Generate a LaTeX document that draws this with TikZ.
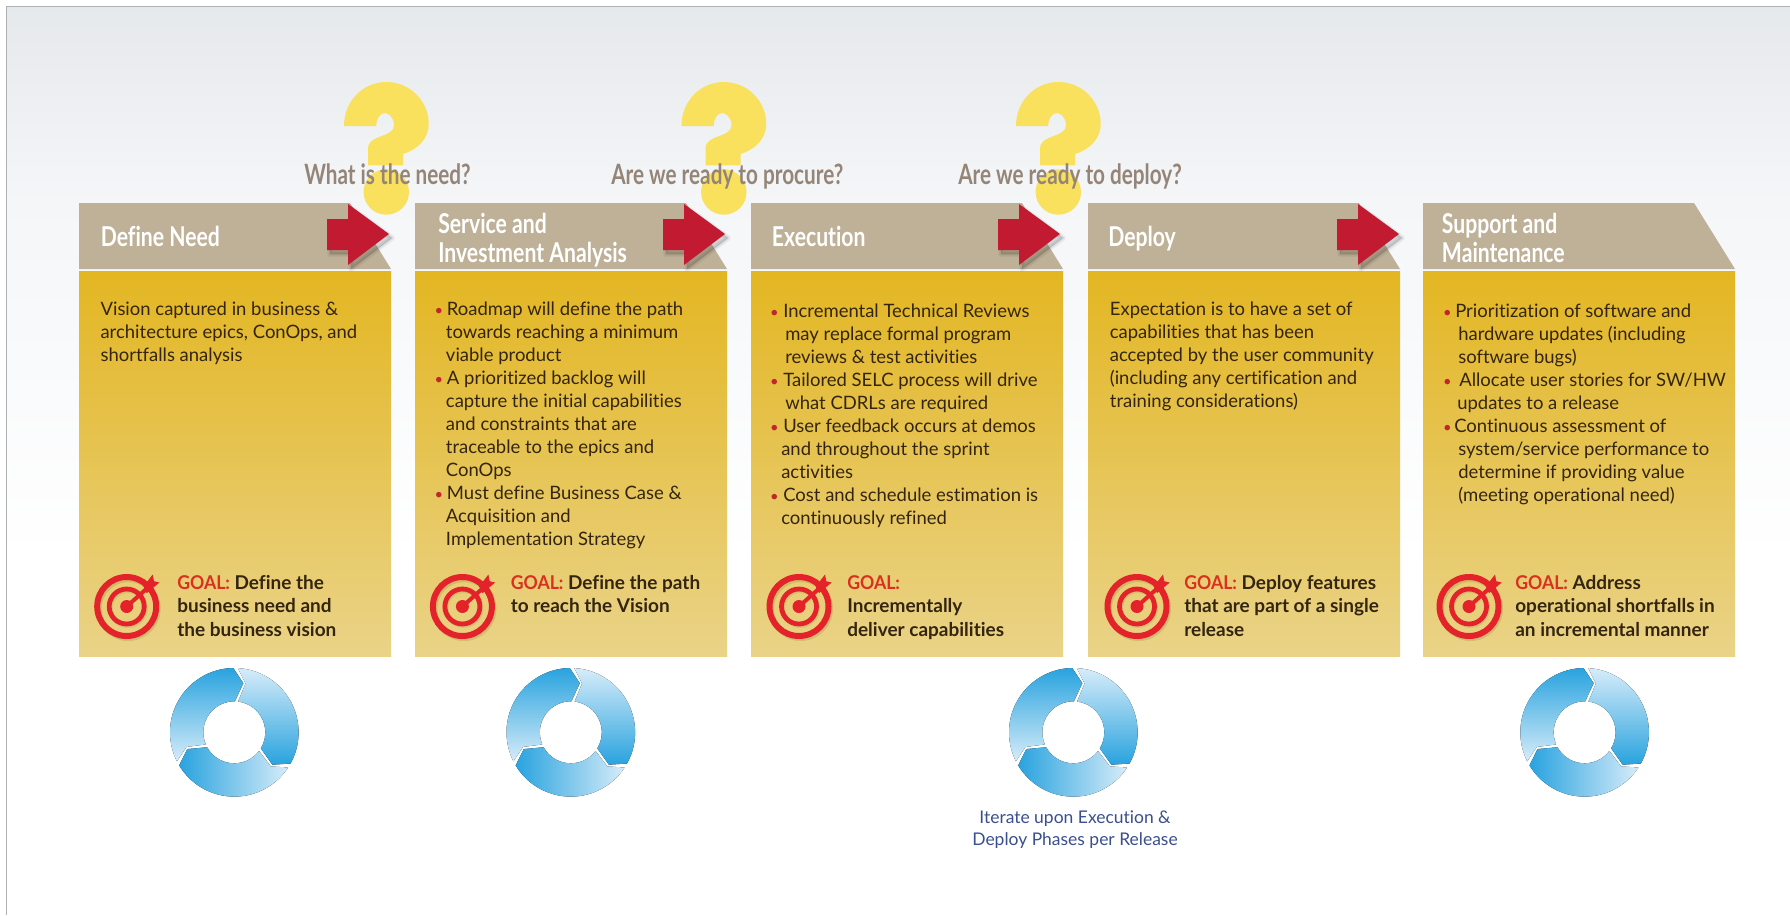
\documentclass[tikz,border=0pt]{standalone}
\usepackage{fontspec}
\setmainfont[Ligatures=NoCommon]{Lato}
\newfontfamily\condfont[FakeStretch=0.74,Ligatures=NoCommon]{Lato}
\newfontfamily\headfont[FakeStretch=0.775,Ligatures=NoCommon]{Lato}
\usetikzlibrary{calc}
\definecolor{headtan}{HTML}{BFB198}
\definecolor{bodytop}{HTML}{E3B622}
\definecolor{bodybot}{HTML}{EAD388}
\definecolor{txtdark}{HTML}{33250F}
\definecolor{goalred}{HTML}{D9301F}
\definecolor{bullred}{HTML}{C0272D}
\definecolor{arrowred}{HTML}{C21A30}
\definecolor{qyellow}{HTML}{F9E15E}
\definecolor{qtext}{HTML}{948578}
\definecolor{ringdark}{HTML}{29A3DF}
\definecolor{ringlight}{HTML}{D6ECF9}
\definecolor{navytext}{HTML}{3A4F8F}
\definecolor{targetred}{HTML}{E3222A}
\definecolor{bgtop}{HTML}{E6E9EB}
\definecolor{bgmid}{HTML}{F4F6F8}
\definecolor{framegray}{HTML}{AEB0B2}
\newlength{\pxu}\setlength{\pxu}{0.75pt}
\newcommand{\bl}[1]{\leavevmode\llap{\textcolor{bullred}{\scalebox{.8}{\textbullet}}\hspace{2pt}}\hspace*{#1\pxu}}
\newcommand{\ofs}[1]{\leavevmode\hspace*{#1\pxu}}
\tikzset{
  x=0.75pt,y=-0.75pt,
  bodytext/.style={anchor=north west,inner sep=0pt,align=left,text=txtdark,font=\fontsize{13.85pt}{17.25pt}\selectfont},
  goaltext/.style={anchor=north west,inner sep=0pt,align=left,text=txtdark,font=\fontsize{14.25pt}{17.6pt}\selectfont\bfseries},
  headtext/.style={anchor=north west,inner sep=0pt,align=left,text=white,font=\headfont\fontsize{20.5pt}{22.4pt}\selectfont\bfseries},
  asktext/.style={anchor=base west,inner sep=0pt,text=qtext,font=\condfont\fontsize{21pt}{24pt}\selectfont\bfseries},
  captext/.style={anchor=north,inner sep=0pt,align=center,text=navytext,font=\fontsize{13.1pt}{16.8pt}\selectfont},
}
\newcommand{\panel}[1]{%
  \fill[top color=bodytop,bottom color=bodybot] (#1,271) rectangle ++(312,385);
  \fill[headtan] (#1,203) -- ++(271,0) -- ++(41,66) -- ++(-312,0) -- cycle;
}
\newcommand{\qmark}[1]{%
  \begin{scope}[shift={(#1,82)}]
  \fill[qyellow] (0,44) .. controls (0,19) and (19,0) .. (42.3,0) .. controls (66,0) and (84.7,19) .. (84.7,42)
     .. controls (84.7,58) and (72,68) .. (59,72) -- (59,83.3) -- (24,83.3) -- (24,66.7)
     .. controls (24,52) and (50,56) .. (50,43.3) .. controls (50,35) and (44,31) .. (41,31)
     .. controls (36,31) and (32.3,36) .. (32.3,44) -- cycle;
  \fill[qyellow] (42.3,110) circle[radius=22.7];
  \end{scope}
}
\newcommand{\redarrow}[1]{%
  \begin{scope}[shift={(#1,0)}]
  \foreach \w in {6,4,2,0.5}{
    \draw[black,opacity=.035,line width=\w*.75pt,fill=black,line join=round]
      (3,223) -- (24,223) -- (24,208) -- (65,238) -- (24,269) -- (24,254) -- (3,254) -- cycle;}
  \fill[arrowred] (0,219) -- (21,219) -- (21,204) -- (62,234) -- (21,265) -- (21,250) -- (0,250) -- cycle;
  \end{scope}
}
\newcommand{\ringseg}[2]{%
  \fill[#2] (#1+91:64.3) arc[start angle=#1+91,end angle=#1+206.8,radius=64.3]
     -- (#1+197:50) -- (#1+203:31) arc[start angle=#1+203,end angle=#1+88.8,radius=31]
     -- (#1+79.6:50) -- cycle;
}
\newcommand{\ring}[2]{%
  \begin{scope}[shift={(#1,#2)},yscale=-1]
  \ringseg{0}{top color=ringdark,bottom color=ringlight}
  \ringseg{-120}{top color=ringlight,bottom color=ringdark}
  \ringseg{120}{left color=ringdark,right color=ringlight}
  \end{scope}
}
\newcommand{\target}[1]{%
  \begin{scope}[shift={(#1,606.5)}]
  \draw[black,opacity=.10,line width=4.5pt] (1.5,2) circle[radius=29.5];
  \draw[black,opacity=.07,line width=3.6pt] (1.2,1.6) circle[radius=17.5];
  \draw[targetred,line width=4.5pt] (0,0) circle[radius=29.5];
  \draw[targetred,line width=3.6pt] (0,0) circle[radius=17.5];
  \fill[targetred] (0,0) circle[radius=6.5];
  \draw[targetred,line width=3pt] (0,0) -- (19,-17);
  \fill[targetred] (16.7,-20) -- (26,-32) -- (27.3,-25.3) -- (32.7,-24) -- (20,-13.3) -- cycle;
  \end{scope}
}
\begin{document}
\begin{tikzpicture}
\useasboundingbox (0,0) rectangle (1790,915);
\fill[white] (0,0) rectangle (1790,915);
\fill[top color=bgtop,bottom color=bgmid] (7,7) rectangle (1790,200);
\fill[top color=bgmid,bottom color=white] (7,200) rectangle (1790,560);
\draw[framegray,line width=1.2pt] (6.5,915) -- (6.5,6.5) -- (1790,6.5);

\qmark{344}\qmark{681.5}\qmark{1016}
\panel{79}\panel{415}\panel{751}\panel{1088}\panel{1423}
\redarrow{327}\redarrow{663}\redarrow{998}\redarrow{1337}

\node[asktext] (ask1) at (304,184) {What is the need?};
\node[asktext] (ask2) at (611,184) {Are we ready to procure?};
\node[asktext] (ask3) at (958,184) {Are we ready to deploy?};

\node[headtext] (h1) at (100.5,226) {Define Need};
\node[headtext] (h2) at (438,212.5) {Service and\\Investment Analysis};
\node[headtext] (h3) at (771.7,226) {Execution};
\node[headtext] (h4) at (1108,226) {Deploy};
\node[headtext] (h5) at (1441.7,212.5) {Support and\\Maintenance};

\node[bodytext] (b1) at (100.3,302) {Vision captured in business \&\\architecture epics, ConOps, and\\shortfalls analysis};
\node[bodytext] (b2) at (445.7,302) {\bl{1}Roadmap will define the path\\towards reaching a minimum\\viable product\\\bl{1}A prioritized backlog will\\capture the initial capabilities\\and constraints that are\\traceable to the epics and\\ConOps\\\bl{1}Must define Business Case \&\\Acquisition and\\Implementation Strategy};
\node[bodytext] (b3) at (781,303.5) {\bl{2}Incremental Technical Reviews\\\ofs{4}may replace formal program\\\ofs{4}reviews \& test activities\\\bl{2}Tailored SELC process will drive\\\ofs{4}what CDRLs are required\\\bl{2}User feedback occurs at demos\\and throughout the sprint\\activities\\\bl{2}Cost and schedule estimation is\\continuously refined};
\node[bodytext] (b4) at (1109.6,302) {Expectation is to have a set of\\capabilities that has been\\accepted by the user community\\(including any certification and\\training considerations)};
\node[bodytext] (b5) at (1454,303.5) {\bl{1}Prioritization of software and\\\ofs{4}hardware updates (including\\\ofs{4}software bugs)\\\bl{5}Allocate user stories for SW/HW\\\ofs{3}updates to a release\\\bl{0}Continuous assessment of\\\ofs{4}system/service performance to\\\ofs{4}determine if providing value\\\ofs{4}(meeting operational need)};

\target{126.7}\target{462.4}\target{799}\target{1137}\target{1469}
\newcommand{\GL}{\scalebox{0.93}[1]{\textcolor{goalred}{GOAL:}}}
\node[goaltext] (g1) at (177,575) {\GL{} Define the\\business need and\\the business vision};
\node[goaltext] (g2) at (510.5,575) {\GL{} Define the path\\to reach the Vision};
\node[goaltext] (g3) at (847,575) {\GL\\Incrementally\\deliver capabilities};
\node[goaltext] (g4) at (1184,575) {\GL{} Deploy features\\that are part of a single\\release};
\node[goaltext] (g5) at (1515,575) {\GL{} Address\\operational shortfalls in\\an incremental manner};

\ring{234.3}{732.3}\ring{570.8}{732.3}\ring{1073.3}{732.3}\ring{1584.6}{732.3}
\node[captext] (cap) at (1075,810.5) {Iterate upon Execution \&\\Deploy Phases per Release};
\end{tikzpicture}
\end{document}
